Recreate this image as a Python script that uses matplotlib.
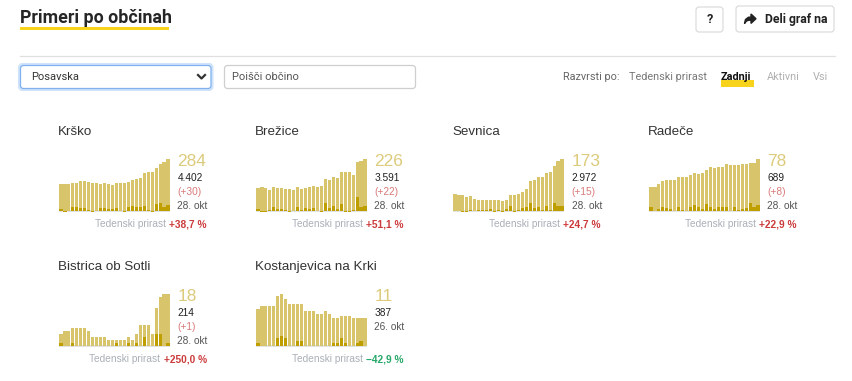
#!/usr/bin/env python3

import matplotlib
matplotlib.use("Agg")
import matplotlib.pyplot as plt
from matplotlib.patches import FancyBboxPatch, Polygon, Rectangle
from matplotlib.transforms import IdentityTransform
from matplotlib.lines import Line2D

W, H = 853, 381

LIGHT = "#d8c56b"
DARK = "#bf9f00"
NUM_LIGHT = "#dccb7c"
RED = "#cc3b3b"
PINK = "#d97a7a"
GREEN = "#27a86a"
GREY_TXT = "#aab0b8"

NAMES = ["Krško", "Brežice", "Sevnica", "Radeče", "Bistrica ob Sotli", "Kostanjevica na Krki"]

krsko_active = [147, 147, 147, 153, 153, 164, 164, 157, 153, 153, 147, 153, 147, 142,
                153, 153, 153, 158, 169, 175, 180, 208, 213, 213, 235, 257, 268, 284]
krsko_new = [11, -5, 0, 22, 22, 16, 16, 5, -5, 0, 16, 16, 11, 11,
             16, 0, -5, 22, 27, 22, 22, 27, 5, -5, 38, 44, 22, 30]

brezice_active = [100, 104, 100, 91, 104, 100, 100, 96, 96, 91, 104, 96, 100, 104,
                  109, 104, 109, 139, 135, 148, 143, 170, 170, 170, 156, 213, 217, 226]
brezice_new = [9, -4, -4, 4, 17, 9, 9, 4, -4, 0, 17, 4, 13, 9,
               13, 0, -4, 35, 13, 22, 9, 30, -4, -4, 4, 61, 17, 22]

sevnica_active = [57, 53, 53, 47, 50, 40, 37, 37, 37, 37, 37, 37, 33, 37,
                  53, 53, 57, 63, 73, 100, 103, 113, 113, 126, 130, 150, 166, 173]
sevnica_new = [0, 0, -3, -3, 3, 0, 3, 3, 3, 7, -3, 3, -3, 7,
               17, -3, 3, 10, 13, 27, 10, 13, 3, 17, 3, 27, 17, 15]

radece_active = [36, 36, 40, 44, 46, 46, 46, 50, 51, 51, 54, 57, 55, 57,
                 61, 66, 64, 66, 66, 70, 69, 69, 69, 70, 70, 72, 72, 78]
radece_new = [6, -1, 3, 6, 4, 3, -1, 6, 1, -1, 6, 9, 6, 3,
              10, 6, 3, 6, 6, 6, -1, 6, 1, 3, 4, 12, 6, 8]

bistrica_active = [4, 5, 5, 6, 6, 6, 6, 5, 3, 3, 3, 3, 2, 2,
                   2, 2, 2, 3, 2, 4, 7, 7, 7, 4, 13, 17, 18, 18]
bistrica_new = [1, 0, 0, 1, 0, 0, 0, 0, 0, 0, 0, 0, 0, 0,
                1, 0, 0, 1, 0, 1, 0, 3, 0, 0, 4, 4, 0, 1]

kostanjevica_active = [15, 16, 16, 16, 16, 20, 21, 19, 17, 17, 17, 17, 14, 14,
                       14, 13, 13, 14, 13, 11, 11, 12, 12, 12, 11, 11, 11, 11]
kostanjevica_new = [1, 0, 0, 0, 0, 3, 4, 3, 0, 0, 2, 2, 0, 0,
                    0, 0, 0, 0, 0, 1, 1, 3, 1, 0, 0, 1, 2, 0]

ACTIVE = [krsko_active, brezice_active, sevnica_active, radece_active, bistrica_active, kostanjevica_active]
NEW = [krsko_new, brezice_new, sevnica_new, radece_new, bistrica_new, kostanjevica_new]
TOTALS = ["4.402", "3.591", "2.972", "689", "214", "387"]
TODAY = ["(+30)", "(+22)", "(+15)", "(+8)", "(+1)", None]
DATES = ["28. okt", "28. okt", "28. okt", "28. okt", "28. okt", "26. okt"]
GROWTH = ["+38,7 %", "+51,1 %", "+24,7 %", "+22,9 %", "+250,0 %", "\u221242,9 %"]

SORT_LABELS = ["Tedenski prirast", "Zadnji", "Aktivni", "Vsi"]

UI_FONT = ["Roboto", "DejaVu Sans"]
PANEL_FONT = ["Liberation Sans", "DejaVu Sans"]


def fx(x):
    return x / W


def fy(y):
    return 1 - y / H


def rbox(fig, x0, y0, x1, y1, ec, lw=0.8, r=3, fc="white"):
    p = FancyBboxPatch((x0, H - y1), x1 - x0, y1 - y0,
                       boxstyle=f"round,pad=0,rounding_size={r}",
                       ec=ec, fc=fc, lw=lw, transform=IdentityTransform())
    fig.add_artist(p)


fig = plt.figure(figsize=(W / 100, H / 100), dpi=100)
fig.patch.set_facecolor("white")

# header
fig.text(fx(20), fy(18), "Primeri po občinah", fontsize=12.8, fontweight="bold",
         color="#262626", family=UI_FONT, ha="left", va="center")
fig.add_artist(Rectangle((20, H - 29.5), 149, 2.6, color="#f7d31c", lw=0,
                         transform=IdentityTransform()))

rbox(fig, 696, 7, 723, 32, "#d8d8d8")
fig.text(fx(709.5), fy(19.5), "?", fontsize=9, fontweight="bold", color="#222",
         family=UI_FONT, ha="center", va="center")
rbox(fig, 736, 6, 834, 32, "#d8d8d8")
icon = [(744.5, 23.5), (745.5, 19.5), (748.5, 17.2), (751, 17.2), (751, 14), (756, 18.7),
        (751, 23.4), (751, 20.2), (749, 20.2), (746.5, 21)]
fig.add_artist(Polygon([(x, H - y) for x, y in icon], closed=True, color="#222",
                       transform=IdentityTransform()))
fig.text(fx(765), fy(19.5), "Deli graf na", fontsize=8.8, fontweight="bold", color="#222",
         family=UI_FONT, ha="left", va="center")

fig.add_artist(Line2D([fx(20), fx(835)], [fy(56), fy(56)], color="#e0e0e0", lw=0.9))

# controls
rbox(fig, 19.5, 64.5, 212, 89.5, "#cfe3fb", lw=2.2)
rbox(fig, 20.5, 65.5, 211, 88.5, "#7fb2ee", lw=0.9)
fig.text(fx(31), fy(77), "Posavska", fontsize=8, color="#333", family=UI_FONT,
         ha="left", va="center")
fig.add_artist(Line2D([fx(198), fx(201.5), fx(205)], [fy(75), fy(78.5), fy(75)],
                      color="#333", lw=1.6))
rbox(fig, 224.5, 65.5, 415.5, 88.5, "#cfcfcf", lw=0.9)
fig.text(fx(232), fy(77), "Poišči občino", fontsize=8, color="#555", family=UI_FONT,
         ha="left", va="center")

fig.text(fx(563), fy(76.5), "Razvrsti po:", fontsize=7.8, color="#666", family=UI_FONT,
         ha="left", va="center")
sort_x = [629, 721, 767, 813]
sort_col = ["#777", "#111", "#b0b0b0", "#b0b0b0"]
fig.add_artist(Rectangle((721, H - 87), 33, 7, color="#f7d31c", lw=0,
                         transform=IdentityTransform()))
for i, lab in enumerate(SORT_LABELS):
    fig.text(fx(sort_x[i]), fy(76.5), lab, fontsize=7.8, color=sort_col[i],
             fontweight="bold" if lab == "Zadnji" else "normal",
             family=UI_FONT, ha="left", va="center")

# small multiples
col_left = [59, 256, 453, 649]
row_base = [210.7, 345.7]
renderer = fig.canvas.get_renderer()

for k, name in enumerate(NAMES):
    left = col_left[k % 4]
    base = row_base[k // 4]
    active = ACTIVE[k]
    new = NEW[k]
    mx = max(active)

    ax = fig.add_axes([fx(left), fy(base + 4), 111 / W, 56 / H])
    ax.set_xlim(-0.5, len(active) - 0.5)
    ax.set_ylim(-4 / 52 * mx, mx)
    ax.axis("off")
    ax.axhline(0, color="#e2e2e2", lw=1.4, zorder=0)
    xs = list(range(len(active)))
    ax.bar(xs, active, width=0.8, color=LIGHT, lw=0, zorder=1)
    ax.bar(xs, new, width=0.8, color=DARK, lw=0, zorder=2)

    fig.text(fx(left - 1), fy(base - 79), name, fontsize=9.6, color="#333",
             family=PANEL_FONT, ha="left", va="center")

    nx = fx(left + 118.5)
    fig.text(nx, fy(base - 49), str(active[-1]), fontsize=12.5, color=NUM_LIGHT,
             family=PANEL_FONT, ha="left", va="center")
    fig.text(nx, fy(base - 33), TOTALS[k], fontsize=7.3, color="#222",
             family=PANEL_FONT, ha="left", va="center")
    if TODAY[k]:
        fig.text(nx, fy(base - 18.5), TODAY[k], fontsize=7.3, color=PINK,
                 family=PANEL_FONT, ha="left", va="center")
        fig.text(nx, fy(base - 4.5), DATES[k], fontsize=7.3, color="#555",
                 family=PANEL_FONT, ha="left", va="center")
    else:
        fig.text(nx, fy(base - 18.5), DATES[k], fontsize=7.3, color="#555",
                 family=PANEL_FONT, ha="left", va="center")

    gcol = GREEN if GROWTH[k].startswith("\u2212") else RED
    right = left + 148
    t = fig.text(fx(right), fy(base + 13.5), GROWTH[k], fontsize=7.3, color=gcol,
                 fontweight="bold", family=PANEL_FONT, ha="right", va="center")
    wpx = t.get_window_extent(renderer=renderer).width
    fig.text(fx(right - wpx - 3.5), fy(base + 13.5), "Tedenski prirast", fontsize=7.3,
             color=GREY_TXT, family=PANEL_FONT, ha="right", va="center")

fig.savefig("out.png", dpi=100, facecolor="white")
